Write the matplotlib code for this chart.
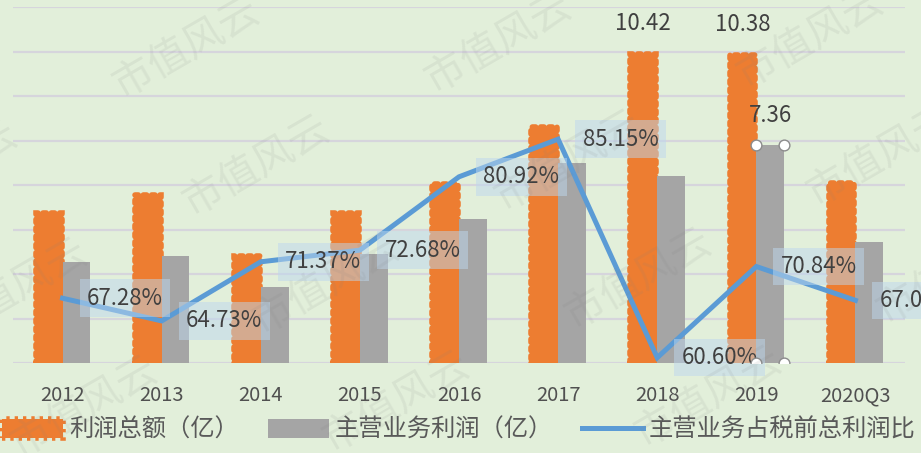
import matplotlib.pyplot as plt

plt.rcParams['font.family'] = ['Noto Sans CJK SC', 'DejaVu Sans']

# data
years = ['2012', '2013', '2014', '2015', '2016', '2017', '2018', '2019', '2020Q3']
total_profit = [5.05, 5.65, 3.62, 5.07, 6.05, 7.95, 10.42, 10.38, 6.08]   # 利润总额（亿）
main_profit = [3.40, 3.62, 2.56, 3.66, 4.87, 6.75, 6.31, 7.36, 4.07]      # 主营业务利润（亿）
main_ratio = [67.28, 64.73, 71.37, 72.68, 80.92, 85.15, 60.60, 70.84, 67.04]  # %
grid_levels = [0, 1.5, 3, 4.5, 6, 7.5, 9, 10.5, 12]
total_labeled = [6, 7]   # 只标了这几根柱子
main_labeled = [7]

BG = '#E2EFDA'
ORANGE = '#ED7D31'
GRAY = '#A5A5A5'
BLUE = '#5B9BD5'
TXT = '#595959'

fig = plt.figure(figsize=(9.21, 4.53), dpi=100, facecolor=BG)
ax = fig.add_axes([13 / 921, 1 - 363 / 453, 892 / 921, 356 / 453])
ax.set_facecolor(BG)

x = list(range(len(years)))
w = 0.28
xo = [i - w / 2 for i in x]
xg = [i + w / 2 for i in x]

# 网格线
ax.hlines(grid_levels, -0.5, len(years) - 0.5, color='#D6D5DC', linewidth=1.6, zorder=0)

# 橙色柱子 锯齿边
bars_o = ax.bar(xo, total_profit, w - 0.02, color=ORANGE, edgecolor=ORANGE, linewidth=4,
                linestyle=(0, (0.6, 0.9)), capstyle='round', zorder=3,
                label='利润总额（亿）')
bars_g = ax.bar(xg, main_profit, w, color=GRAY, zorder=3, label='主营业务利润（亿）')

ax.set_xlim(-0.5, len(years) - 0.5)
ax.set_ylim(0, 12)
ax.set_yticks([])
ax.set_xticks(x)
ax.set_xticklabels(years, fontsize=14.5, color='#505050')
for s in ax.spines.values():
    s.set_visible(False)

for i in total_labeled:
    ax.annotate(f'{total_profit[i]:.2f}', (xo[i], total_profit[i]), xytext=(0, 22),
                textcoords='offset points', ha='center', va='center',
                fontsize=16, color='#404040')
for i in main_labeled:
    ax.annotate(f'{main_profit[i]:.2f}', (xg[i], main_profit[i]), xytext=(0, 21),
                textcoords='offset points', ha='center', va='center',
                fontsize=16, color='#404040')

# 折线 次坐标
ax2 = ax.twinx()
ax2.set_ylim(60, 100)
ax2.axis('off')
ax.tick_params(axis='x', length=0, pad=16)
ax.set_yticks([])

line, = ax2.plot(x, main_ratio, color=BLUE, linewidth=3.6, solid_joinstyle='miter',
                 zorder=4, label='主营业务占税前总利润比')
for i, v in enumerate(main_ratio):
    ax2.annotate(f'{v:.2f}%', (i, v), xytext=(45, 0), textcoords='offset points',
                 ha='center', va='center', fontsize=16, color='#404040', zorder=5,
                 bbox=dict(boxstyle='square,pad=0.33', fc='#BDD7EE', ec='none', alpha=0.5),
                 annotation_clip=False)

# 选中柱子时的小圆点
sel = main_labeled[0]
ax2.scatter([xg[sel] - w / 2, xg[sel] + w / 2, xg[sel] - w / 2, xg[sel] + w / 2],
            [main_profit[sel], main_profit[sel], 0, 0], transform=ax.transData,
            s=60, facecolor='white', edgecolor='#8C8C8C', linewidth=1, zorder=6)
ax2.set_ylim(60, 100)

# 图例
fig.legend(handles=[bars_o, bars_g, line], loc='center left',
           bbox_to_anchor=(2 / 921, 1 - 430 / 453), ncol=3, frameon=False,
           fontsize=17.5, labelcolor=TXT, handlelength=2.5, handleheight=0.8,
           handletextpad=0.25, columnspacing=1.2, borderpad=0, borderaxespad=0)

# 水印
wm = [(186, 48), (256, 166), (326, 284), (396, 402), (498, 43), (568, 161),
      (638, 279), (708, 397), (810, 38), (880, 156), (950, 274), (-56, 171),
      (14, 289), (84, 407)]
for px, py in wm:
    fig.text(px / 921, 1 - py / 453, '市值风云', fontsize=29, color='#7F7F7F',
             alpha=0.11, rotation=30, ha='center', va='center', zorder=10,
             fontweight='light')

fig.savefig('out.png', dpi=100, facecolor=BG)
